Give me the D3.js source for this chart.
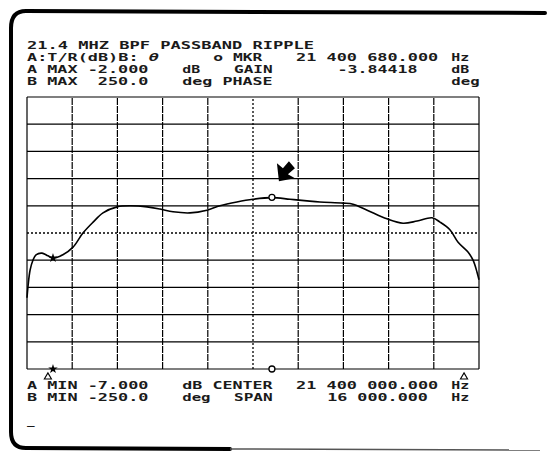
<!DOCTYPE html>
<html><head><meta charset="utf-8">
<script src="https://cdn.jsdelivr.net/npm/d3@7"></script>
<style>
html,body{margin:0;padding:0;background:#fff;}
svg{display:block;}
text{font-family:"DejaVu Sans Mono","Liberation Mono",monospace;font-size:10.5px;font-weight:bold;fill:#1a1a1a;}
</style></head>
<body>
<script>
// ---- data (frequency offset from center, MHz ; gain, dB) ----
const freqOffsetMHz = [-8.00,-7.96,-7.89,-7.79,-7.68,-7.47,-7.26,-7.08,-6.73,-6.37,-6.02,-5.66,-5.31,-4.81,-4.35,-3.75,-3.29,-2.83,-2.23,-1.63,-1.17,-0.57,0.00,0.67,1.31,1.91,2.37,3.19,3.54,4.04,4.74,5.31,5.81,6.34,6.62,6.97,7.26,7.61,7.79,7.93,8.00];
const gainDb = [-5.69,-5.46,-5.18,-5.00,-4.90,-4.87,-4.92,-4.96,-4.90,-4.76,-4.50,-4.30,-4.13,-4.02,-4.00,-4.02,-4.06,-4.11,-4.13,-4.08,-4.00,-3.93,-3.88,-3.85,-3.88,-3.91,-3.93,-3.95,-3.97,-4.08,-4.24,-4.32,-4.28,-4.22,-4.30,-4.44,-4.67,-4.85,-5.00,-5.22,-5.36];
const xGridTicks = [-8,-6.4,-4.8,-3.2,-1.6,0,1.6,3.2,4.8,6.4,8];
const yGridTicks = [-7,-6.5,-6,-5.5,-5,-4.5,-4,-3.5,-3,-2.5,-2];
const marker = {f:0.67, db:-3.84418};
const starMarker = {f:-7.08, db:-4.96};
const deltaMarkers = [-7.26, 7.47];
const headerLines = [
  [[0,"21.4 MHZ BPF PASSBAND RIPPLE"]],
  [[0,"A:T/R(dB)B: ", "θ"],[18,"o MKR"],[26,"21 400 680.000"],[41,"Hz"]],
  [[0,"A MAX -2.000"],[15,"dB"],[20,"GAIN"],[30,"-3.84418"],[41,"dB"]],
  [[0,"B MAX  250.0"],[15,"deg PHASE"],[41,"deg"]]
];
const footerLines = [
  [[0,"A MIN -7.000"],[15,"dB CENTER"],[26,"21 400 000.000"],[41,"Hz"]],
  [[0,"B MIN -250.0"],[15,"deg"],[20,"SPAN"],[29,"16 000.000"],[41,"Hz"]],
  [[0,"_"]]
];

const W=547,H=453;
const svg=d3.select("body").append("svg").attr("width",W).attr("height",H);
svg.append("rect").attr("width",W).attr("height",H).attr("fill","#fff");

const x=d3.scaleLinear().domain([-8,8]).range([27,479]);
const y=d3.scaleLinear().domain([-7,-2]).range([369,97]);

// outer frame (left, top, bottom)
svg.append("path")
  .attr("d","M 545 13 L 26 11 Q 11 11 11 28 L 11 432 Q 11 448 26 448 L 230 449")
  .attr("fill","none").attr("stroke","#000").attr("stroke-width",4).attr("stroke-linecap","round");
svg.append("path").attr("d","M 230 449 L 540 450").attr("fill","none").attr("stroke","#555").attr("stroke-width",1.5);

// grid
const g=svg.append("g");
g.selectAll("line.v").data(xGridTicks).join("line")
  .attr("x1",d=>x(d)).attr("x2",d=>x(d)).attr("y1",y(-7)).attr("y2",y(-2))
  .attr("stroke","#000").attr("stroke-width",d=>d===0?1.3:1.2)
  .attr("stroke-dasharray",d=>d===0?"2,2":(Math.abs(d)===8?null:"7,1"));
g.selectAll("line.h").data(yGridTicks).join("line")
  .attr("x1",x(-8)).attr("x2",x(8)).attr("y1",d=>y(d)).attr("y2",d=>y(d))
  .attr("stroke","#000").attr("stroke-width",d=>d===-4.5?1.3:1.2)
  .attr("stroke-dasharray",d=>d===-4.5?"2,2":null);

// trace
const pts=freqOffsetMHz.map((f,i)=>[f,gainDb[i]]);
svg.append("path").datum(pts)
  .attr("d",d3.line().x(d=>x(d[0])).y(d=>y(d[1])).curve(d3.curveCatmullRom.alpha(0.5)))
  .attr("fill","none").attr("stroke","#000").attr("stroke-width",1.6);

// markers on trace
svg.append("circle").attr("cx",x(marker.f)).attr("cy",y(marker.db)).attr("r",3)
  .attr("fill","#fff").attr("stroke","#000").attr("stroke-width",1.3);
svg.append("path").attr("d",d3.symbol(d3.symbolStar,28)())
  .attr("transform",`translate(${x(starMarker.f)},${y(starMarker.db)})`).attr("fill","#000");
// markers on bottom axis
svg.append("circle").attr("cx",x(marker.f)).attr("cy",y(-7)).attr("r",3)
  .attr("fill","#fff").attr("stroke","#000").attr("stroke-width",1.3);
svg.append("path").attr("d",d3.symbol(d3.symbolStar,28)())
  .attr("transform",`translate(${x(starMarker.f)},${y(-7)})`).attr("fill","#000");
svg.selectAll("path.tri").data(deltaMarkers).join("path")
  .attr("d",d3.symbol(d3.symbolTriangle,22)())
  .attr("transform",d=>`translate(${x(d)},${y(-7)+8})`)
  .attr("fill","#fff").attr("stroke","#000").attr("stroke-width",1.1);

// arrow pointing at marker
const mx=x(marker.f), my=y(marker.db);
svg.append("path")
  .attr("d",`M ${mx+7} ${my-16} L ${mx+5} ${my-34} L ${mx+11} ${my-29} L ${mx+17} ${my-36} L ${mx+23} ${my-29} L ${mx+16} ${my-23} L ${mx+23} ${my-19} Z`)
  .attr("fill","#000");

// text
const cw=10.35, x0=27;
function drawLines(lines, baselines){
  lines.forEach((line,i)=>{
    line.forEach(ch=>{
      const str=ch[1]+(ch[2]||"");
      const t=svg.append("text").attr("x",x0+ch[0]*cw).attr("y",baselines[i])
        .attr("textLength",(str.length-1)*cw+7.6).attr("lengthAdjust","spacingAndGlyphs")
        .attr("xml:space","preserve").style("white-space","pre");
      t.append("tspan").text(ch[1]);
      if(ch[2]) t.append("tspan").attr("font-style","italic").text(ch[2]);
    });
  });
}
drawLines(headerLines,[48.5,60.7,72.9,85.1]);
drawLines(footerLines,[388.5,400.7,424]);
</script>
</body></html>
